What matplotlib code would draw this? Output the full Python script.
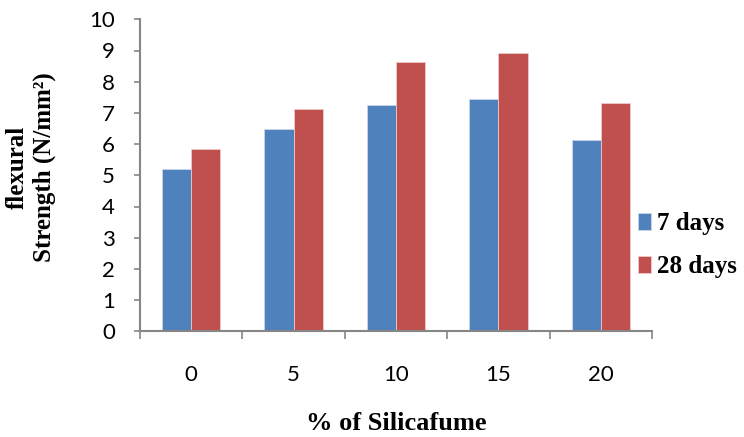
import matplotlib.pyplot as plt
import numpy as np

# % of silicafume vs flexural strength
silica = ['0', '5', '10', '15', '20']
days7 = [5.2, 6.48, 7.25, 7.45, 6.13]
days28 = [5.83, 7.12, 8.64, 8.92, 7.32]

blue = '#4F81BD'
red = '#C0504D'
grey = '#868686'

fig = plt.figure(figsize=(7.44, 4.37), dpi=100)
ax = fig.add_axes([140/744, 1 - 331.3/437, 512/744, 312/437])

x = np.arange(len(silica))
w = 0.286
ax.bar(x - w/2, days7, w, color=blue, edgecolor='#c9d6ea', linewidth=0.6, label='7 days')
ax.bar(x + w/2, days28, w, color=red, edgecolor='#f0c8c8', linewidth=0.6, label='28 days')

ax.set_xlim(-0.5, len(silica) - 0.5)
ax.set_ylim(0, 10)
ax.set_yticks(range(0, 11))
ax.set_xticks(x)
ax.set_xticklabels(silica)
ax.set_xticks(np.arange(-0.5, len(silica)), minor=True)

for s in ['top', 'right']:
    ax.spines[s].set_visible(False)
for s in ['left', 'bottom']:
    ax.spines[s].set_color(grey)
    ax.spines[s].set_linewidth(1.5)

ax.tick_params(axis='y', length=4, width=1.2, color=grey, labelsize=16, pad=14)
ax.tick_params(axis='x', which='major', length=0, labelsize=16, pad=24)
ax.tick_params(axis='x', which='minor', length=6, width=1.2, color=grey)
for lbl in ax.get_xticklabels() + ax.get_yticklabels():
    lbl.set_fontfamily('Lato')

fig.text(396/744, 1 - 423/437, '% of Silicafume', family='Liberation Serif',
         weight='bold', fontsize=19, ha='center', va='center')
fig.text(31/744, 1 - 167/437, 'flexural\nStrength (N/mm²)', family='Liberation Serif',
         weight='bold', fontsize=18, ha='center', va='center', rotation=90,
         linespacing=1.25, multialignment='center')

leg = fig.legend(loc='center left', bbox_to_anchor=(638/744, 1 - 245/437), frameon=False,
                 prop={'family': 'Liberation Serif', 'weight': 'bold', 'size': 18},
                 borderpad=0, borderaxespad=0,
                 handlelength=0.5, handleheight=0.7, handletextpad=0.25, labelspacing=0.8)

fig.savefig('out.png', dpi=100)
